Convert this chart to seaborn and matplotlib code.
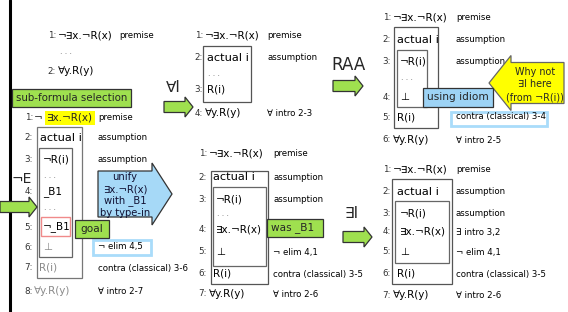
import matplotlib
matplotlib.use("Agg")
import matplotlib.pyplot as plt
import seaborn as sns
from matplotlib.patches import Rectangle, Polygon

sns.set_style("white")
plt.rcParams['font.family'] = ['DejaVu Sans']

# ---- contenu des preuves (texte) ----
a_nums = ['1:', '', '2:']
a_forms = ['¬∃x.¬R(x)', '. . .', '∀y.R(y)']
a_justs = ['premise', '', '']

b_nums = ['1:', '2:', '3:', '', '4:', '', '5:', '6:', '7:', '8:']
b_forms = ['¬∃x.¬R(x)', 'actual i', '¬R(i)', '. . .', '_B1', '. . .', '¬_B1', '⊥', 'R(i)', '∀y.R(y)']
b_justs = ['premise', 'assumption', 'assumption', '', '', '', '', '¬ elim 4,5',
           'contra (classical) 3-6', '∀ intro 2-7']
b_grey = [False, False, False, False, False, False, False, True, True, True]

c_nums = ['1:', '2:', '', '3:', '4:']
c_forms = ['¬∃x.¬R(x)', 'actual i', '. . .', 'R(i)', '∀y.R(y)']
c_justs = ['premise', 'assumption', '', '', '∀ intro 2-3']

d_nums = ['1:', '2:', '3:', '', '4:', '5:', '6:', '7:']
d_forms = ['¬∃x.¬R(x)', 'actual i', '¬R(i)', '. . .', '∃x.¬R(x)', '⊥', 'R(i)', '∀y.R(y)']
d_justs = ['premise', 'assumption', 'assumption', '', '', '¬ elim 4,1',
           'contra (classical) 3-5', '∀ intro 2-6']

e_nums = ['1:', '2:', '3:', '', '4:', '5:', '6:']
e_forms = ['¬∃x.¬R(x)', 'actual i', '¬R(i)', '. . .', '⊥', 'R(i)', '∀y.R(y)']
e_justs = ['premise', 'assumption', 'assumption', '', '', 'contra (classical) 3-4', '∀ intro 2-5']

f_nums = ['1:', '2:', '3:', '4:', '5:', '6:', '7:']
f_forms = ['¬∃x.¬R(x)', 'actual i', '¬R(i)', '∃x.¬R(x)', '⊥', 'R(i)', '∀y.R(y)']
f_justs = ['premise', 'assumption', 'assumption', '∃ intro 3,2', '¬ elim 4,1',
           'contra (classical) 3-5', '∀ intro 2-6']

# étiquettes des flèches et bulles
step_labels = ['¬E', '∀I', 'RAA', '∃I']
unify_text = ['unify', '∃x.¬R(x)', 'with _B1', 'by type-in']
why_text = ['Why not', '∃I here', '(from ¬R(i))']

GREEN = '#9fe04f'
BLUE = '#a6d9f7'
BORDER_BLUE = '#a9dcfa'


def proof(ax, nums, forms, justs, ys, xf, xn, xj, grey=None):
    for k, (n, f, j, y, x) in enumerate(zip(nums, forms, justs, ys, xf)):
        if n:
            ax.text(xn, y, n, ha='right', va='center', fontsize=6.3, color='#333333')
        col = '#8a8a8a' if (grey and grey[k]) else 'black'
        if f == 'actual i':
            ax.text(x, y, f, ha='left', va='center', fontsize=8.2, color=col)
        elif f.startswith('.'):
            ax.text(x, y - 2, f, ha='left', va='center', fontsize=5.5, color='#555555')
        else:
            ax.text(x, y, f, ha='left', va='center', fontsize=7.5, color=col)
        if j:
            ax.text(xj, y, j, ha='left', va='center', fontsize=6.2, color='black')


def box(ax, x0, x1, y0, y1, ec='#555555', lw=0.9, fc='none', z=2):
    ax.add_patch(Rectangle((x0, y0), x1 - x0, y1 - y0, fill=(fc != 'none'),
                           facecolor=fc, edgecolor=ec, lw=lw, zorder=z))


def block_arrow(ax, x_tail, x_tip, yc, hb, hh, head, fc, ec='#333333', z=3):
    d = 1 if x_tip > x_tail else -1
    xh = x_tip - d * head
    pts = [(x_tail, yc - hb / 2), (xh, yc - hb / 2), (xh, yc - hh / 2), (x_tip, yc),
           (xh, yc + hh / 2), (xh, yc + hb / 2), (x_tail, yc + hb / 2)]
    ax.add_patch(Polygon(pts, closed=True, facecolor=fc, edgecolor=ec, lw=0.9, zorder=z))


fig = plt.figure(figsize=(5.68, 3.12), dpi=100)
ax = fig.add_axes([0, 0, 1, 1])
ax.set_xlim(0, 568)
ax.set_ylim(312, 0)
ax.axis('off')

# trait vertical à gauche
ax.plot([10, 10], [0, 312], color='black', lw=2.2, zorder=1)

# ---- panneau A ----
proof(ax, a_nums, a_forms, a_justs, [36, 53, 71], [58, 60, 58], 56, 119)

# label sélection
box(ax, 12, 131, 89, 107, ec='#333333', fc=GREEN, z=3)
ax.text(71.5, 98, 'sub-formula selection', ha='center', va='center', fontsize=7.4, zorder=4)

# ---- panneau B ----
b_ys = [118, 138, 160, 177, 192, 210, 227, 247, 268, 291]
b_xf = [34, 40, 43, 44, 43, 44, 43, 43, 39, 34]
b_forms_draw = [''] + b_forms[1:]
proof(ax, b_nums, b_forms_draw, b_justs, b_ys, b_xf, 33, 98, grey=b_grey)
# ¬ + sous-formule surlignée
ax.text(34, 118, b_forms[0][0], ha='left', va='center', fontsize=7.5)
ax.text(47, 118, b_forms[0][1:], ha='left', va='center', fontsize=7.5,
        bbox=dict(facecolor='#ffff00', edgecolor='none', pad=1.2))
box(ax, 37, 82, 127, 278, ec='#777777')
box(ax, 39, 72, 148, 257, ec='#666666')
box(ax, 41, 70, 217, 236, ec='#f08a8a', lw=1.0)
box(ax, 75, 109, 220, 238, ec='#333333', fc=GREEN, z=3)
ax.text(92, 229, 'goal', ha='center', va='center', fontsize=7.6, zorder=4)
box(ax, 93, 151, 240, 255, ec=BORDER_BLUE, lw=2.0, z=1)

# flèche bleue "unify"
block_arrow(ax, 98, 172, 194, 46, 62, 20, BLUE)
for t, y in zip(unify_text, [177, 189, 201, 213]):
    ax.text(125, y, t, ha='center', va='center', fontsize=7.2, color='#111133', zorder=4)

# ---- panneau C ----
proof(ax, c_nums, c_forms, c_justs, [35, 58, 75, 89, 113], [205, 207, 208, 207, 205], 203, 267)
box(ax, 203, 251, 46, 102)

# ---- panneau D ----
d_ys = [154, 177, 199, 215, 230, 252, 274, 294]
proof(ax, d_nums, d_forms, d_justs, d_ys, [209, 213, 216, 217, 216, 216, 213, 209], 207, 273)
box(ax, 211, 268, 171, 284)
box(ax, 213, 266, 187, 266, ec='#666666')
box(ax, 267, 323, 219, 237, ec='#333333', fc=GREEN, z=3)
ax.text(271, 228, 'was _B1', ha='left', va='center', fontsize=7.6, zorder=4)

# ---- panneau E ----
e_ys = [17, 40, 62, 80, 97, 117, 140]
proof(ax, e_nums, e_forms, e_justs, e_ys, [393, 397, 400, 401, 400, 397, 393], 391, 456)
box(ax, 394, 438, 27, 128)
box(ax, 397, 427, 50, 107, ec='#666666')
box(ax, 451, 547, 112, 126, ec=BORDER_BLUE, lw=2.0, z=1)
# flèche jaune
block_arrow(ax, 564, 489, 83, 41, 55, 22, '#ffff00', ec='#666666')
for t, y in zip(why_text, [72, 84, 97]):
    ax.text(535, y, t, ha='center', va='center', fontsize=6.9, zorder=4)
box(ax, 423, 493, 88, 107, ec='#333333', fc='#9dd3f5', z=5)
ax.text(458, 97.5, 'using idiom', ha='center', va='center', fontsize=7.6, zorder=6)

# ---- panneau F ----
f_ys = [170, 192, 213, 232, 252, 274, 295]
proof(ax, f_nums, f_forms, f_justs, f_ys, [393, 397, 400, 400, 400, 397, 393], 391, 456)
box(ax, 392, 452, 179, 284)
box(ax, 395, 449, 201, 263, ec='#666666')

# ---- flèches vertes entre étapes ----
arrow_specs = [(0, 37, 207), (164, 193, 107), (333, 363, 86), (343, 372, 237)]
label_pos = [(12, 179, 10), (166, 88, 11), (331, 65, 12), (345, 214, 11)]
for (x0, x1, yc), (lx, ly, fs), lab in zip(arrow_specs, label_pos, step_labels):
    block_arrow(ax, x0, x1, yc, 11, 20, 8, GREEN)
    ax.text(lx, ly, lab, ha='left', va='center', fontsize=fs, zorder=4)

fig.savefig('out.png', dpi=100)
